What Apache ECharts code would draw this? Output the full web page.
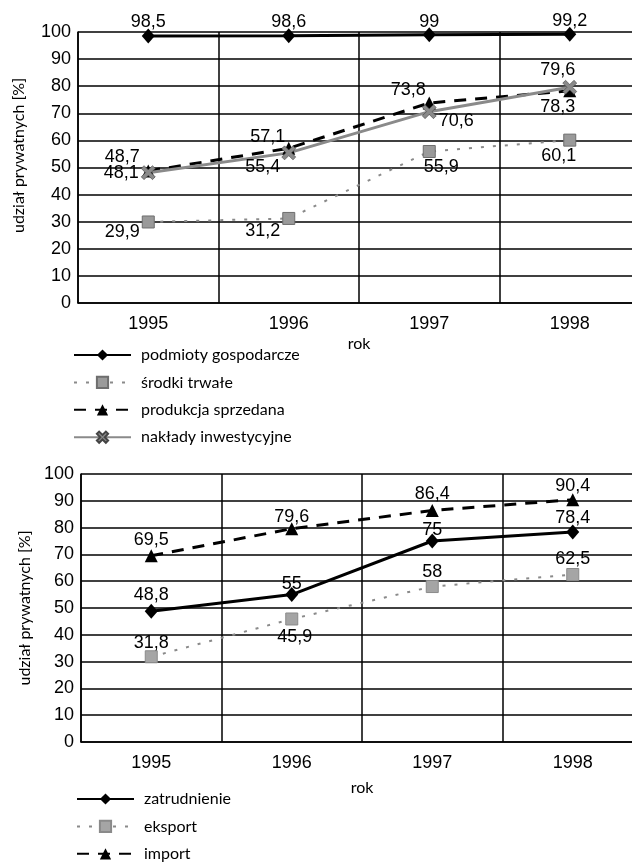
<!DOCTYPE html>
<html>
<head>
<meta charset="utf-8">
<script src="https://cdn.jsdelivr.net/npm/echarts@6/dist/echarts.min.js"></script>
<style>
  html, body { margin: 0; padding: 0; background: #fff; }
  #chart { width: 632px; height: 862px; }
</style>
</head>
<body>
<div id="chart"></div>
<script>
// Years on the category axis
const years = ['1995', '1996', '1997', '1998'];

// Upper panel: private-sector share [%]
const podmiotyGospodarcze = [98.5, 98.6, 99, 99.2];
const srodkiTrwale = [29.9, 31.2, 55.9, 60.1];
const produkcjaSprzedana = [48.7, 57.1, 73.8, 78.3];
const nakladyInwestycyjne = [48.1, 55.4, 70.6, 79.6];

// Lower panel: private-sector share [%]
const zatrudnienie = [48.8, 55, 75, 78.4];
const eksport = [31.8, 45.9, 58, 62.5];
const importShare = [69.5, 79.6, 86.4, 90.4];

// Label placement (pixel offsets from each point)
const offPodmioty = [[0, -14], [0, -14], [0, -13], [0, -13]];
const offSrodki = [[-26, 10], [-26, 13], [12, 16], [-11, 16]];
const offProdukcja = [[-26, -14], [-21, -11], [-21, -13], [-12, 16]];
const offNaklady = [[-27, 0], [-26, 14], [27, 9], [-12, -17]];
const offZatrudnienie = [[0, -16], [0, -11], [0, -11], [0, -14]];
const offEksport = [[0, -14], [3, 18], [0, -15], [0, -15]];
const offImport = [[0, -16], [0, -12], [0, -16], [0, -14]];

const NUM_FONT = '"Liberation Sans", Arial, sans-serif';
const TXT_FONT = 'Lato, "Noto Sans", sans-serif';
const CROSS = 'path://M2,0 L5,3 L8,0 L10,2 L7,5 L10,8 L8,10 L5,7 L2,10 L0,8 L3,5 L0,2 Z';

function withOffsets(values, offsets) {
  return values.map((v, i) => ({ value: v, label: { offset: offsets[i] } }));
}

const valueLabel = {
  show: true,
  position: 'inside',
  color: '#000',
  fontSize: 18,
  fontFamily: NUM_FONT,
  formatter: p => String(p.value).replace('.', ',')
};

function lineSeries(name, idx, values, offsets, line, symbol, symbolSize, symbolStyle) {
  return {
    name: name,
    type: 'line',
    xAxisIndex: idx,
    yAxisIndex: idx,
    data: withOffsets(values, offsets),
    symbol: symbol,
    symbolSize: symbolSize,
    itemStyle: symbolStyle,
    lineStyle: line,
    label: valueLabel,
    emphasis: { disabled: true },
    animation: false
  };
}

function xAxisFor(idx, gap) {
  return {
    type: 'category',
    gridIndex: idx,
    data: years,
    boundaryGap: true,
    axisTick: { show: false },
    axisLine: { lineStyle: { color: '#000', width: 1.5 } },
    splitLine: { show: true, lineStyle: { color: '#000', width: 1.5 } },
    axisLabel: { color: '#000', fontSize: 18, fontFamily: NUM_FONT, margin: 12 },
    name: 'rok',
    nameLocation: 'middle',
    nameGap: gap,
    nameTextStyle: { color: '#000', fontSize: 16, fontFamily: TXT_FONT }
  };
}

function yAxisFor(idx, gap, namePad) {
  return {
    type: 'value',
    gridIndex: idx,
    min: 0,
    max: 100,
    interval: 10,
    axisLine: { show: true, lineStyle: { color: '#000', width: 1.5 } },
    axisTick: { show: false },
    splitLine: { show: true, lineStyle: { color: '#000', width: 1.5 } },
    axisLabel: { color: '#000', fontSize: 18, fontFamily: NUM_FONT, margin: 7 },
    name: 'udział prywatnych [%]',
    nameLocation: 'middle',
    nameGap: gap,
    nameTextStyle: { color: '#000', fontSize: 16, fontFamily: TXT_FONT, padding: namePad }
  };
}

const solidBlack = { color: '#000', width: 3, type: 'solid' };
const dashedBlack = { color: '#000', width: 3, type: [12, 9] };
const dottedGrey = { color: '#8a8a8a', width: 2, type: [3, 9] };
const greyBand = { color: '#8a8a8a', width: 3, type: 'solid' };

const legendCommon = {
  orient: 'vertical',
  padding: 0,
  height: 120,
  itemWidth: 57,
  itemHeight: 14,
  itemGap: 11.4,
  textStyle: { color: '#000', fontSize: 16, lineHeight: 14, fontFamily: TXT_FONT, padding: [0, 0, 0, 5] },
  selectedMode: false
};

const chart = echarts.init(document.getElementById('chart'), null, { renderer: 'canvas' });
chart.setOption({
  backgroundColor: '#fff',
  animation: false,
  grid: [
    { left: 78, top: 32, width: 562, height: 271, outerBoundsMode: 'none' },
    { left: 81, top: 474, width: 562, height: 268, outerBoundsMode: 'none' }
  ],
  legend: [
    Object.assign({}, legendCommon, {
      left: 73, top: 347,
      data: ['podmioty gospodarcze', 'środki trwałe', 'produkcja sprzedana', 'nakłady inwestycyjne']
    }),
    Object.assign({}, legendCommon, {
      left: 76, top: 791,
      data: ['zatrudnienie', 'eksport', 'import']
    })
  ],
  xAxis: [xAxisFor(0, 33), xAxisFor(1, 38)],
  yAxis: [yAxisFor(0, 51, [0, 0, 0, 24]), yAxisFor(1, 46, 0)],
  series: [
    lineSeries('podmioty gospodarcze', 0, podmiotyGospodarcze, offPodmioty,
      solidBlack, 'diamond', [13, 15], { color: '#000' }),
    lineSeries('środki trwałe', 0, srodkiTrwale, offSrodki,
      dottedGrey, 'rect', 12, { color: '#9a9a9a', borderColor: '#6e6e6e', borderWidth: 1 }),
    lineSeries('produkcja sprzedana', 0, produkcjaSprzedana, offProdukcja,
      dashedBlack, 'triangle', 13, { color: '#000' }),
    lineSeries('nakłady inwestycyjne', 0, nakladyInwestycyjne, offNaklady,
      greyBand, CROSS, 14, { color: '#8a8a8a', borderColor: '#444', borderWidth: 0.6 }),
    lineSeries('zatrudnienie', 1, zatrudnienie, offZatrudnienie,
      solidBlack, 'diamond', [13, 15], { color: '#000' }),
    lineSeries('eksport', 1, eksport, offEksport,
      dottedGrey, 'rect', 12, { color: '#a5a5a5', borderColor: '#8a8a8a', borderWidth: 1 }),
    lineSeries('import', 1, importShare, offImport,
      dashedBlack, 'triangle', 13, { color: '#000' })
  ]
});
</script>
</body>
</html>
